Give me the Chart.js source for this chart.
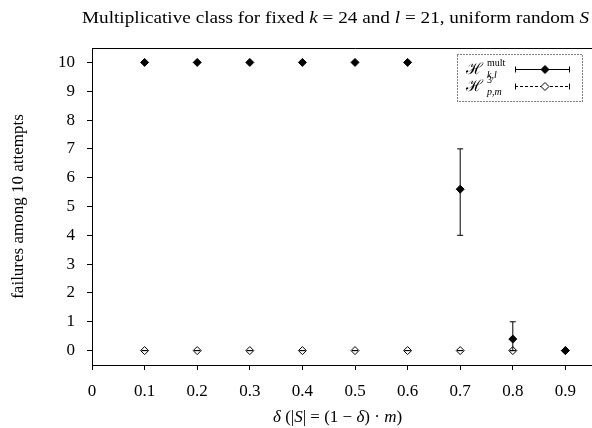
<!DOCTYPE html>
<html>
<head>
<meta charset="utf-8">
<script src="https://cdn.jsdelivr.net/npm/chart.js@4.4.1/dist/chart.umd.min.js"></script>
<style>
  html, body { margin: 0; padding: 0; background: #fff; overflow: hidden; }
  #wrap { width: 650px; height: 428px; }
</style>
</head>
<body>
<div id="wrap"><canvas id="c" width="650" height="428"></canvas></div>
<script>
// data
const deltas = [0.1, 0.2, 0.3, 0.4, 0.5, 0.6, 0.7, 0.8, 0.9];
const multMean = [10, 10, 10, 10, 10, 10, 5.6, 0.4, 0];
const multLow  = [10, 10, 10, 10, 10, 10, 4, 0, 0];
const multHigh = [10, 10, 10, 10, 10, 10, 7, 1, 0];
const p3Mean = [0, 0, 0, 0, 0, 0, 0, 0, 0];
const p3Low  = [0, 0, 0, 0, 0, 0, 0, 0, 0];
const p3High = [0, 0, 0, 0, 0, 0, 0, 0, 0];
const xTicks = [0, 0.1, 0.2, 0.3, 0.4, 0.5, 0.6, 0.7, 0.8, 0.9, 1.0];
const yTicks = [0, 1, 2, 3, 4, 5, 6, 7, 8, 9, 10];

const SERIF = "'Liberation Serif', 'DejaVu Serif', serif";
const FS = 17;

function points(mean) {
  return deltas.map((x, i) => ({ x, y: mean[i] }));
}

// error bar: two points (low, high) per x, then a gap
function errBars(lo, hi) {
  return deltas.flatMap((x, i) => [{ x, y: lo[i] }, { x, y: hi[i] }, { x, y: null }]);
}

function drawRuns(ctx, x, y, runs) {
  for (const r of runs) {
    ctx.font = (r.i ? 'italic ' : '') + (r.s || FS) + 'px ' + SERIF;
    ctx.fillText(r.t, x, y + (r.dy || 0));
    if (!r.stay) x += ctx.measureText(r.t).width + (r.gap || 0);
  }
  return x;
}

const textPlugin = {
  id: 'texts',
  afterDraw(chart) {
    const ctx = chart.ctx;
    ctx.save();
    ctx.fillStyle = '#000';
    ctx.textBaseline = 'alphabetic';
    ctx.textAlign = 'left';
    // title is set wider, like the LaTeX font of the original
    ctx.save();
    ctx.translate(82, 23);
    ctx.scale(1.13, 1);
    drawRuns(ctx, 0, 0, [
      { t: 'Multiplicative class for fixed ' }, { t: 'k', i: true }, { t: ' = 24 and ' },
      { t: 'l', i: true }, { t: ' = 21, uniform random ' }, { t: 'S', i: true }
    ]);
    ctx.restore();
    drawRuns(ctx, 273, 422, [
      { t: 'δ', i: true }, { t: ' (|' }, { t: 'S', i: true }, { t: '| = (1 − ' },
      { t: 'δ', i: true }, { t: ') · ' }, { t: 'm', i: true }, { t: ')' }
    ]);
    ctx.restore();
  }
};

function diamond(ctx, x, y, r, fill) {
  ctx.beginPath();
  ctx.moveTo(x, y - r);
  ctx.lineTo(x + r, y);
  ctx.lineTo(x, y + r);
  ctx.lineTo(x - r, y);
  ctx.closePath();
  ctx.fillStyle = fill;
  ctx.fill();
  ctx.stroke();
}

const keyPlugin = {
  id: 'key',
  afterDraw(chart) {
    const ctx = chart.ctx;
    ctx.save();
    ctx.strokeStyle = '#000';
    ctx.lineWidth = 1;
    ctx.setLineDash([1, 2]);
    ctx.strokeRect(457.5, 54.5, 125, 47);

    ctx.fillStyle = '#000';
    // entry 1
    let x = drawRuns(ctx, 466, 74, [{ t: 'ℋ', s: 16, gap: 4 }]);
    drawRuns(ctx, x, 74, [{ t: 'mult', s: 10, dy: -8, stay: true }, { t: 'k,l', s: 10, i: true, dy: 4 }]);
    // entry 2
    x = drawRuns(ctx, 466, 91, [{ t: 'ℋ', s: 16, gap: 4 }]);
    drawRuns(ctx, x, 91, [{ t: '3', s: 10, dy: -8, stay: true }, { t: 'p,m', s: 10, i: true, dy: 4 }]);

    const rows = [{ y: 69.5, dash: [], fill: '#000' }, { y: 86.5, dash: [3, 2], fill: '#fff' }];
    for (const r of rows) {
      ctx.setLineDash(r.dash);
      ctx.beginPath();
      ctx.moveTo(515, r.y); ctx.lineTo(569, r.y);
      ctx.stroke();
      ctx.setLineDash([]);
      ctx.beginPath();
      ctx.moveTo(515.5, r.y - 3); ctx.lineTo(515.5, r.y + 3);
      ctx.moveTo(569.5, r.y - 3); ctx.lineTo(569.5, r.y + 3);
      ctx.stroke();
      diamond(ctx, 545, r.y, 4, r.fill);
    }
    ctx.restore();
  }
};

const axisGrid = { display: true, drawOnChartArea: false, drawTicks: true, tickLength: 5, color: '#000', lineWidth: 1 };
const axisBorder = { display: true, color: '#000', width: 1 };
const tickFont = { family: SERIF, size: FS };

new Chart(document.getElementById('c'), {
  type: 'line',
  data: {
    datasets: [
      {
        label: 'mult',
        data: points(multMean),
        showLine: false,
        pointStyle: 'rectRot',
        pointRadius: 4,
        pointBackgroundColor: '#000',
        pointBorderColor: '#000',
        pointBorderWidth: 1,
        order: 0
      },
      {
        label: 'mult err',
        data: errBars(multLow, multHigh),
        showLine: true,
        spanGaps: false,
        borderColor: '#000',
        borderWidth: 1,
        pointStyle: 'line',
        pointRadius: 3,
        pointBorderColor: '#000',
        pointBorderWidth: 1,
        order: 1
      },
      {
        label: 'p3 err',
        data: errBars(p3Low, p3High),
        showLine: true,
        spanGaps: false,
        borderColor: '#000',
        borderWidth: 1,
        borderDash: [3, 2],
        pointStyle: 'line',
        pointRadius: 3,
        pointBorderColor: '#000',
        pointBorderWidth: 1,
        order: 2
      },
      {
        label: 'p3',
        data: points(p3Mean),
        showLine: false,
        pointStyle: 'rectRot',
        pointRadius: 4,
        pointBackgroundColor: '#fff',
        pointBorderColor: '#000',
        pointBorderWidth: 1,
        order: 3
      }
    ]
  },
  options: {
    responsive: false,
    animation: false,
    events: [],
    layout: { padding: { left: 0, top: 48, right: 32, bottom: 0 } },
    plugins: {
      legend: { display: false },
      tooltip: { enabled: false },
      title: { display: false }
    },
    scales: {
      x: {
        type: 'linear',
        position: 'bottom',
        min: 0,
        max: 1,
        afterBuildTicks: (s) => { s.ticks = xTicks.map(v => ({ value: v })); },
        afterFit: (s) => { s.height = 63; },
        ticks: { font: tickFont, color: '#000', padding: 11, maxRotation: 0, autoSkip: false,
          callback: (v) => String(+v.toFixed(1)) },
        grid: axisGrid,
        border: axisBorder
      },
      x2: {
        type: 'linear',
        position: 'top',
        min: 0,
        max: 1,
        afterFit: (s) => { s.height = 0; },
        ticks: { display: false },
        grid: { display: true, drawOnChartArea: false, drawTicks: false },
        border: axisBorder
      },
      y: {
        type: 'linear',
        position: 'left',
        min: -0.5,
        max: 10.5,
        afterBuildTicks: (s) => { s.ticks = yTicks.map(v => ({ value: v })); },
        afterFit: (s) => { s.width = 92; },
        ticks: { font: tickFont, color: '#000', padding: 12 },
        grid: axisGrid,
        border: axisBorder,
        title: { display: true, text: 'failures among 10 attempts', font: tickFont, color: '#000', padding: { top: 8, bottom: 0 } }
      },
      y2: {
        type: 'linear',
        position: 'right',
        min: -0.5,
        max: 10.5,
        afterFit: (s) => { s.width = 0; },
        ticks: { display: false },
        grid: { display: true, drawOnChartArea: false, drawTicks: false },
        border: axisBorder
      }
    }
  },
  plugins: [textPlugin, keyPlugin]
});
</script>
</body>
</html>
